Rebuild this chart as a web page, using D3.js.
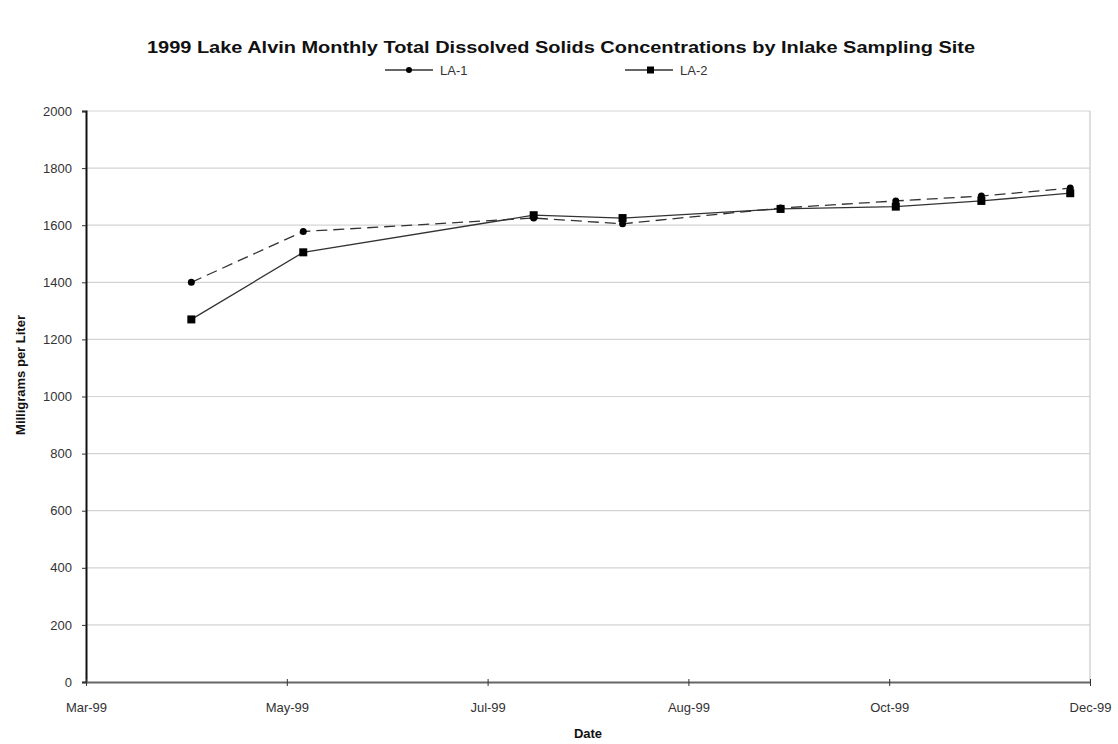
<!DOCTYPE html>
<html>
<head>
<meta charset="utf-8">
<script src="https://cdn.jsdelivr.net/npm/d3@7"></script>
<style>
  body { margin: 0; background: #fff; }
  text { font-family: "Liberation Sans", Arial, sans-serif; }
</style>
</head>
<body>
<div id="chart"></div>
<script>
// sampling dates and values
var sampleDates = ["1999-04-02", "1999-05-06", "1999-07-15", "1999-08-11",
                   "1999-09-28", "1999-11-02", "1999-11-28", "1999-12-25"];
var la1 = [1400, 1578, 1625, 1605, 1660, 1685, 1702, 1730];
var la2 = [1270, 1505, 1635, 1625, 1657, 1665, 1685, 1712];
var seriesNames = ["LA-1", "LA-2"];
var tickDates = ["1999-03-01", "1999-05-01", "1999-07-01", "1999-08-31", "1999-10-31", "1999-12-31"];
var yTicks = [0, 200, 400, 600, 800, 1000, 1200, 1400, 1600, 1800, 2000];

const W = 1118, H = 744,
  LEFT = 86, RIGHT = 1090, TOP = 111, BOTTOM = 682;

var parse = d3.timeParse("%Y-%m-%d");
var svg = d3.select("#chart").append("svg")
  .attr("width", W).attr("height", H);

var x = d3.scaleTime()
  .domain([parse(tickDates[0]), parse(tickDates[tickDates.length - 1])])
  .range([LEFT, RIGHT]);
var y = d3.scaleLinear().domain([0, 2000]).range([BOTTOM, TOP]);

// gridlines
svg.append("g").selectAll("line")
  .data(yTicks.filter(function(d) { return d > 0; }))
  .enter().append("line")
  .attr("x1", LEFT).attr("x2", RIGHT)
  .attr("y1", function(d) { return y(d); })
  .attr("y2", function(d) { return y(d); })
  .attr("stroke", "#d4d4d4").attr("stroke-width", 1.2);

// right border
svg.append("line")
  .attr("x1", RIGHT).attr("x2", RIGHT).attr("y1", TOP).attr("y2", BOTTOM)
  .attr("stroke", "#c8c8c8").attr("stroke-width", 1.2);

// y axis
var yAxis = svg.append("g")
  .attr("transform", "translate(" + LEFT + ",0)")
  .call(d3.axisLeft(y).tickValues(yTicks).tickFormat(d3.format("d")).tickSize(4).tickPadding(10));
yAxis.select(".domain").attr("stroke", "#111").attr("stroke-width", 2);
yAxis.selectAll(".tick line").attr("stroke", "#333");
yAxis.selectAll(".tick text")
  .attr("fill", "#333").style("font-size", "13px");

// x axis
var xAxis = svg.append("g")
  .attr("transform", "translate(0," + BOTTOM + ")")
  .call(d3.axisBottom(x).tickValues(tickDates.map(parse))
    .tickFormat(d3.timeFormat("%b-%y")).tickSizeInner(4).tickSizeOuter(0).tickPadding(17));
xAxis.select(".domain").attr("stroke", "#666").attr("stroke-width", 2);
xAxis.selectAll(".tick line").attr("stroke", "#333").attr("y1", -3);
xAxis.selectAll(".tick text")
  .attr("fill", "#333").style("font-size", "13px");

// lines
var pts1 = sampleDates.map(function(d, i) { return {date: parse(d), v: la1[i]}; });
var pts2 = sampleDates.map(function(d, i) { return {date: parse(d), v: la2[i]}; });
var line = d3.line()
  .x(function(d) { return x(d.date); })
  .y(function(d) { return y(d.v); });

svg.append("path").datum(pts2)
  .attr("d", line).attr("fill", "none")
  .attr("stroke", "#333").attr("stroke-width", 1.3);
svg.append("path").datum(pts1)
  .attr("d", line).attr("fill", "none")
  .attr("stroke", "#333").attr("stroke-width", 1.3)
  .attr("stroke-dasharray", "11,6");

svg.append("g").selectAll("rect")
  .data(pts2).enter().append("rect")
  .attr("x", function(d) { return x(d.date) - 4; })
  .attr("y", function(d) { return y(d.v) - 4; })
  .attr("width", 8).attr("height", 8)
  .attr("fill", "#000");
svg.append("g").selectAll("circle")
  .data(pts1).enter().append("circle")
  .attr("cx", function(d) { return x(d.date); })
  .attr("cy", function(d) { return y(d.v); })
  .attr("r", 3.5)
  .attr("fill", "#000");

// legend
var legend = svg.selectAll(".legend")
  .data(seriesNames).enter().append("g")
  .attr("class", "legend")
  .attr("transform", function(d, i) { return "translate(" + (385 + i * 240) + ",70)"; });
legend.append("line")
  .attr("x1", 0).attr("x2", 48).attr("y1", 0).attr("y2", 0)
  .attr("stroke", "#333").attr("stroke-width", 1.3);
legend.filter(function(d, i) { return i == 0; }).append("circle")
  .attr("cx", 24).attr("cy", 0).attr("r", 3).attr("fill", "#000");
legend.filter(function(d, i) { return i == 1; }).append("rect")
  .attr("x", 22).attr("y", -3.5).attr("width", 7).attr("height", 7).attr("fill", "#000");
legend.append("text")
  .attr("x", 55).attr("y", 0).attr("dy", ".35em")
  .attr("fill", "#333").style("font-size", "13px")
  .text(function(d) { return d; });

// title
svg.append("text")
  .attr("x", 561).attr("y", 53)
  .attr("text-anchor", "middle")
  .attr("textLength", 828).attr("lengthAdjust", "spacingAndGlyphs")
  .style("font-size", "16px").style("font-weight", "bold").attr("fill", "#111")
  .text("1999 Lake Alvin Monthly Total Dissolved Solids Concentrations by Inlake Sampling Site");

// axis titles
svg.append("text")
  .attr("x", 588).attr("y", 738)
  .attr("text-anchor", "middle")
  .style("font-size", "13px").style("font-weight", "bold").attr("fill", "#111")
  .text("Date");
svg.append("text")
  .attr("transform", "translate(25,375) rotate(-90)")
  .attr("text-anchor", "middle")
  .style("font-size", "13px").style("font-weight", "bold").attr("fill", "#111")
  .text("Milligrams per Liter");
</script>
</body>
</html>
